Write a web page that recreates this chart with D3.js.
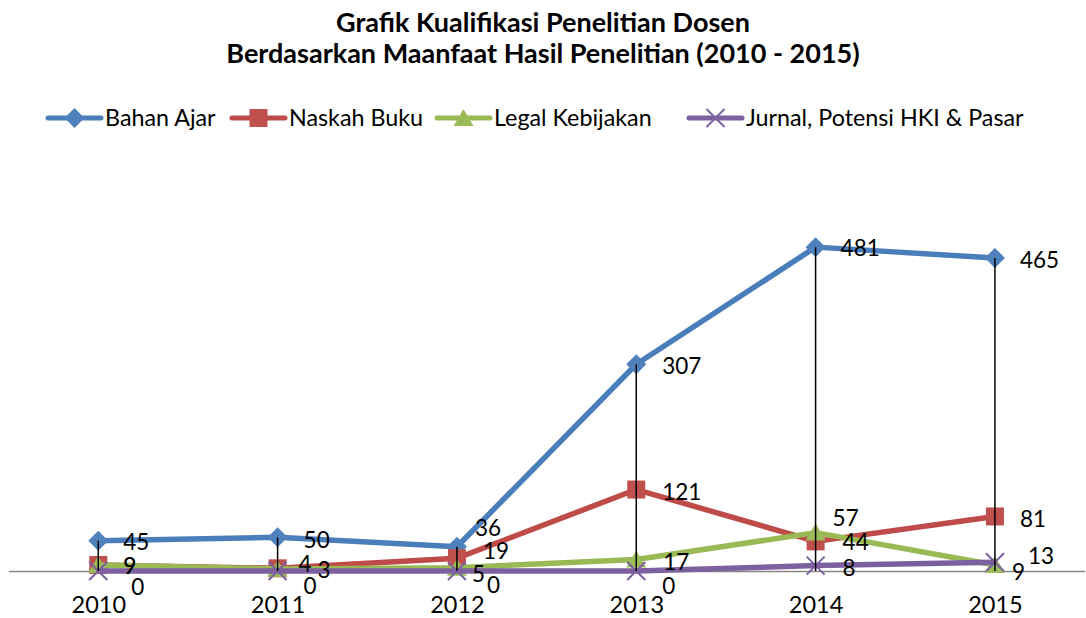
<!DOCTYPE html>
<html><head><meta charset="utf-8">
<script src="https://cdn.jsdelivr.net/npm/d3@7"></script>
<style>html,body{margin:0;padding:0;background:#fff;} svg{display:block;font-family:Lato,"Open Sans",sans-serif;}</style>
</head><body>
<svg id="chart" width="1086" height="618"></svg>
<script>
// ---- data ----
const categories = ["2010", "2011", "2012", "2013", "2014", "2015"];
const seriesNames = ["Bahan Ajar", "Naskah Buku", "Legal Kebijakan", "Jurnal, Potensi HKI & Pasar"];
const bahanAjar   = [45, 50, 36, 307, 481, 465];
const naskahBuku  = [9, 4, 19, 121, 44, 81];
const legalKebij  = [9, 3, 5, 17, 57, 9];
const jurnalHKI   = [0, 0, 0, 0, 8, 13];
const titleLines = ["Grafik Kualifikasi Penelitian Dosen", "Berdasarkan Maanfaat Hasil Penelitian (2010 - 2015)"];

// ---- styles ----
const colors = ["#4A7EBB", "#BE4B48", "#98B954", "#7D60A0"];
const markerFill = ["#4F81BD", "#C0504D", "#9BBB59", "none"];
const markerKinds = ["diamond", "square", "triangle", "x"];
// label nudges [dx, dy] per series per point (placement tweaks only)
const labelNudge = [
  [[25,1],[26,3],[18,-19],[26,2],[25,1],[25,2]],
  [[25,1],[21,-4],[26,-7],[26,2],[27,1],[25,2]],
  [[25,1],[40,1],[15,6],[27,2],[17,-15],[17,7]],
  [[33,16],[26,15],[30,14],[26,15],[27,2],[33,-6]]
];

const seriesValues = [bahanAjar, naskahBuku, legalKebij, jurnalHKI];
const svg = d3.select("#chart");

const x = d3.scalePoint().domain(categories).range([8.6, 1084.6]).padding(0.5);
const y = d3.scaleLinear().domain([0, 600]).range([571, 167]);

function markerPath(kind) {
  if (kind === "diamond") return "M0,-10L10,0L0,10L-10,0Z";
  if (kind === "square") return "M-9,-9H9V9H-9Z";
  if (kind === "triangle") return "M0,-9L10,8H-10Z";
  return "M-9,-9L9,9M-9,9L9,-9";
}
function drawMarker(g, kind, i) {
  const p = g.append("path").attr("d", markerPath(kind));
  if (kind === "x") p.attr("fill", "none").attr("stroke", colors[i]).attr("stroke-width", 2);
  else p.attr("fill", markerFill[i]).attr("stroke", "none");
  return p;
}

// title
svg.append("g").selectAll("text").data(titleLines).join("text")
  .attr("x", 543).attr("y", (d, i) => 32 + i * 31)
  .attr("text-anchor", "middle").attr("font-weight", "bold").attr("font-size", 27)
  .attr("fill", "#000").text(d => d);

// legend
const legendX = [48, 232, 437, 689];
const lg = svg.append("g");
seriesNames.forEach((name, i) => {
  const g = lg.append("g").attr("transform", `translate(${legendX[i]},118)`);
  g.append("line").attr("x1", 0).attr("x2", 53).attr("y1", 0).attr("y2", 0)
    .attr("stroke", colors[i]).attr("stroke-width", 5).attr("stroke-linecap", "round");
  drawMarker(g.append("g").attr("transform", "translate(26.5,0)"), markerKinds[i], i);
  g.append("text").attr("x", 57).attr("y", 8).attr("font-size", 23.3).attr("fill", "#000").text(name);
});

// axis
const axis = svg.append("g").attr("transform", "translate(0,571)")
  .call(d3.axisBottom(x).tickSize(0));
axis.select(".domain").attr("stroke", "#868686").attr("stroke-width", 1.3);
axis.selectAll("text").attr("y", 42).attr("dy", 0).attr("font-size", 23.5)
  .attr("font-family", "Lato, sans-serif").attr("fill", "#000");

// lines
const line = d3.line().x((d, j) => x(categories[j])).y(d => y(d));
seriesValues.forEach((vals, i) => {
  svg.append("path").datum(vals).attr("d", line).attr("fill", "none")
    .attr("stroke", colors[i]).attr("stroke-width", 5.5).attr("stroke-linejoin", "round");
  vals.forEach((v, j) => {
    drawMarker(svg.append("g").attr("transform", `translate(${x(categories[j])},${y(v)})`), markerKinds[i], i);
  });
});

// drop lines
categories.forEach((c, j) => {
  const mx = d3.max(seriesValues, s => s[j]);
  svg.append("line").attr("x1", x(c)).attr("x2", x(c)).attr("y1", y(mx)).attr("y2", y(0))
    .attr("stroke", "#000").attr("stroke-width", 1.5);
});

// data labels
seriesValues.forEach((vals, i) => {
  vals.forEach((v, j) => {
    const [dx, dy] = labelNudge[i][j];
    svg.append("text").attr("x", x(categories[j]) + dx).attr("y", y(v) + dy)
      .attr("dy", "0.36em").attr("font-size", 22.5).attr("fill", "#000").text(v);
  });
});
</script>
</body></html>
